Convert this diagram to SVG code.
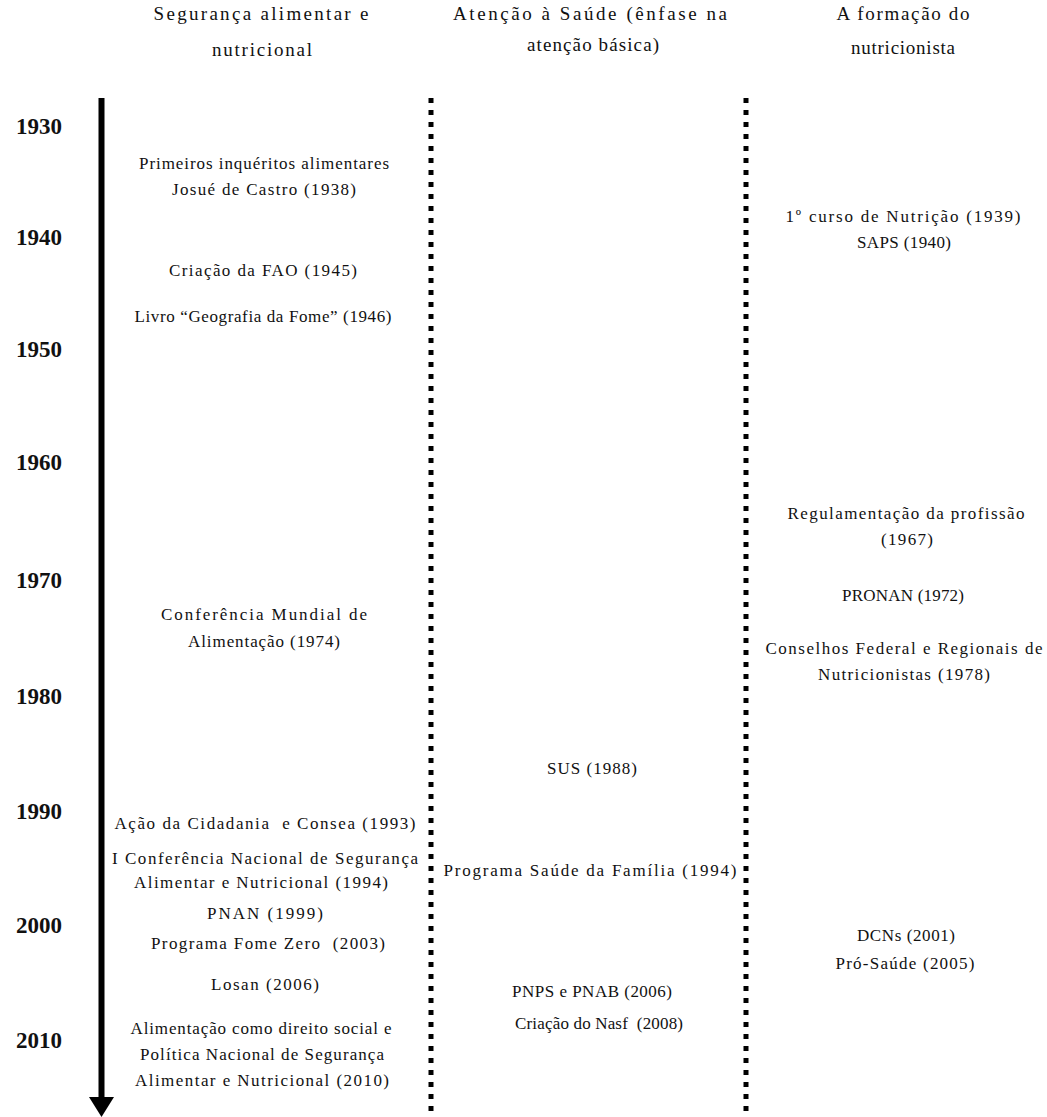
<svg xmlns="http://www.w3.org/2000/svg" width="1047" height="1117" viewBox="0 0 1047 1117">
<style>
text{font-family:"Liberation Serif","Times New Roman",serif;fill:#111;}
.h{font-size:19px;text-anchor:middle;}
.t{font-size:17px;text-anchor:middle;}
.y{font-size:23px;font-weight:bold;}
.dot{stroke:#000;stroke-width:5;stroke-dasharray:5 7;fill:none;}
</style>
<rect width="1047" height="1117" fill="#fff"/>
<g id="connectors">
<line x1="101.5" y1="98" x2="101.5" y2="1100" stroke="#000" stroke-width="6"/>
<polygon points="89,1097 114,1097 101.5,1117" fill="#000"/>
<line class="dot" x1="431" y1="98" x2="431" y2="1117"/>
<line class="dot" x1="746" y1="98" x2="746" y2="1117"/>
</g>
<g id="headers">
<g id="h1"><text class="h" x="261" y="20" textLength="215">Segurança alimentar e</text><text class="h" x="262" y="56" textLength="100">nutricional</text></g>
<g id="h2"><text class="h" x="590" y="20" textLength="274">Atenção à Saúde (ênfase na</text><text class="h" x="593" y="51" textLength="132">atenção básica)</text></g>
<g id="h3"><text class="h" x="903" y="20" textLength="133">A formação do</text><text class="h" x="903" y="54" textLength="104">nutricionista</text></g>
</g>
<g id="years">
<text class="y" x="16" y="134">1930</text>
<text class="y" x="16" y="245">1940</text>
<text class="y" x="16" y="357">1950</text>
<text class="y" x="16" y="470">1960</text>
<text class="y" x="16" y="588">1970</text>
<text class="y" x="16" y="704">1980</text>
<text class="y" x="16" y="819">1990</text>
<text class="y" x="16" y="933">2000</text>
<text class="y" x="16" y="1048">2010</text>
</g>
<g id="col1">
<g id="n1938"><text class="t" x="264" y="169" textLength="250">Primeiros inquéritos alimentares</text><text class="t" x="264" y="195" textLength="184">Josué de Castro (1938)</text></g>
<g id="n1945"><text class="t" x="263" y="276" textLength="188">Criação da FAO (1945)</text></g>
<g id="n1946"><text class="t" x="263" y="322" textLength="257">Livro “Geografia da Fome” (1946)</text></g>
<g id="n1974"><text class="t" x="264" y="620" textLength="206">Conferência Mundial de</text><text class="t" x="264" y="647" textLength="152">Alimentação (1974)</text></g>
<g id="n1993"><text class="t" x="265" y="829" textLength="301" xml:space="preserve">Ação da Cidadania  e Consea (1993)</text></g>
<g id="n1994a"><text class="t" x="265" y="864" textLength="306">I Conferência Nacional de Segurança</text><text class="t" x="261" y="888" textLength="254">Alimentar e Nutricional (1994)</text></g>
<g id="n1999"><text class="t" x="265" y="919" textLength="116">PNAN (1999)</text></g>
<g id="n2003"><text class="t" x="268" y="949" textLength="234" xml:space="preserve">Programa Fome Zero  (2003)</text></g>
<g id="n2006a"><text class="t" x="265" y="990" textLength="108">Losan (2006)</text></g>
<g id="n2010"><text class="t" x="261" y="1034" textLength="261">Alimentação como direito social e</text><text class="t" x="262" y="1060" textLength="244">Política Nacional de Segurança</text><text class="t" x="262" y="1086" textLength="254">Alimentar e Nutricional (2010)</text></g>
</g>
<g id="col2">
<g id="n1988"><text class="t" x="592" y="774" textLength="90">SUS (1988)</text></g>
<g id="n1994b"><text class="t" x="590" y="876" textLength="293">Programa Saúde da Família (1994)</text></g>
<g id="n2006b"><text class="t" x="592" y="997" textLength="160">PNPS e PNAB (2006)</text></g>
<g id="n2008"><text class="t" x="599" y="1029" textLength="168" xml:space="preserve">Criação do Nasf  (2008)</text></g>
</g>
<g id="col3">
<g id="n1939"><text class="t" x="903" y="222" textLength="235">1º curso de Nutrição (1939)</text><text class="t" x="904" y="248" textLength="94">SAPS (1940)</text></g>
<g id="n1967"><text class="t" x="906" y="519" textLength="237">Regulamentação da profissão</text><text class="t" x="907" y="545" textLength="52">(1967)</text></g>
<g id="n1972"><text class="t" x="903" y="601" textLength="122">PRONAN (1972)</text></g>
<g id="n1978"><text class="t" x="904" y="654" textLength="277">Conselhos Federal e Regionais de</text><text class="t" x="904" y="680" textLength="172">Nutricionistas (1978)</text></g>
<g id="n2001"><text class="t" x="906" y="941" textLength="98">DCNs (2001)</text></g>
<g id="n2005"><text class="t" x="905" y="969" textLength="139">Pró-Saúde (2005)</text></g>
</g>
</svg>
